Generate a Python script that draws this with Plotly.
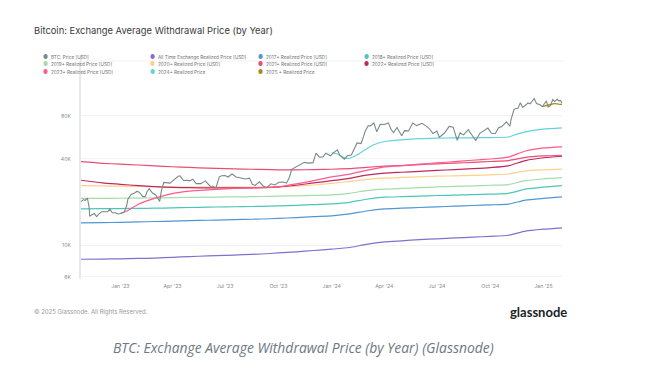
import plotly.graph_objects as go

# ---------------- data ----------------
price_dates = [
    "2022-10-25","2022-10-29","2022-11-01","2022-11-05","2022-11-08","2022-11-09","2022-11-13","2022-11-17",
    "2022-11-21","2022-11-25","2022-11-30","2022-12-05","2022-12-10","2022-12-14","2022-12-18","2022-12-23",
    "2022-12-28","2023-01-01","2023-01-08","2023-01-12","2023-01-14","2023-01-20","2023-01-25","2023-01-29",
    "2023-02-02","2023-02-09","2023-02-13","2023-02-16","2023-02-20","2023-02-25","2023-03-03","2023-03-10",
    "2023-03-13","2023-03-17","2023-03-22","2023-03-28","2023-04-02","2023-04-11","2023-04-14","2023-04-20",
    "2023-04-26","2023-05-01","2023-05-06","2023-05-12","2023-05-20","2023-05-28","2023-06-05","2023-06-10",
    "2023-06-15","2023-06-21","2023-06-25","2023-07-01","2023-07-06","2023-07-13","2023-07-20","2023-07-28",
    "2023-08-05","2023-08-12","2023-08-17","2023-08-22","2023-08-29","2023-09-05","2023-09-11","2023-09-18",
    "2023-09-25","2023-10-02","2023-10-09","2023-10-15","2023-10-20","2023-10-24","2023-11-01","2023-11-09",
    "2023-11-15","2023-11-22","2023-11-30","2023-12-05","2023-12-11","2023-12-17","2023-12-22","2023-12-30",
    "2024-01-04","2024-01-11","2024-01-15","2024-01-23","2024-01-28","2024-02-04","2024-02-09","2024-02-14",
    "2024-02-21","2024-02-28","2024-03-04","2024-03-08","2024-03-14","2024-03-19","2024-03-25","2024-04-01",
    "2024-04-08","2024-04-13","2024-04-17","2024-04-23","2024-05-01","2024-05-06","2024-05-13","2024-05-20",
    "2024-05-27","2024-06-05","2024-06-12","2024-06-18","2024-06-24","2024-07-01","2024-07-05","2024-07-14",
    "2024-07-22","2024-07-29","2024-08-05","2024-08-10","2024-08-16","2024-08-24","2024-08-30","2024-09-06",
    "2024-09-13","2024-09-20","2024-09-27","2024-10-03","2024-10-10","2024-10-15","2024-10-21","2024-10-29",
    "2024-11-04","2024-11-06","2024-11-11","2024-11-13","2024-11-18","2024-11-22","2024-11-26","2024-12-02",
    "2024-12-05","2024-12-09","2024-12-16","2024-12-20","2024-12-26","2024-12-30","2025-01-06","2025-01-09",
    "2025-01-13","2025-01-17","2025-01-20","2025-01-25","2025-01-27","2025-01-31","2025-02-02",
]
btc_price = [
    20100,20800,20500,21300,18500,15900,16300,16600,
    15800,16500,17100,17000,17100,17800,16800,16800,
    16500,16600,17100,18900,20900,22700,23000,23700,
    23500,21800,21800,23600,24800,23200,22400,20200,
    24100,27400,27300,27100,28200,30300,30500,28300,
    28400,28100,28900,26900,26900,28100,25800,25800,
    25100,30000,30500,30600,29900,31400,29900,29300,
    29000,29400,26600,26100,27700,25800,25200,26800,
    26300,27500,27600,27100,29700,33900,35400,36700,
    37900,37400,37700,44000,41200,41400,43900,42100,
    44200,46300,42500,39900,42100,42600,47100,51800,
    51300,62500,68300,68200,71400,62000,69900,69700,
    71600,64000,61300,66400,58200,63200,62900,71400,
    68500,71100,68200,65100,60300,62800,56700,60800,
    67600,66800,54000,60900,59000,64100,59100,53900,
    60500,63200,65800,60600,60300,66000,67400,72700,
    67800,75600,88700,90000,90500,98900,91900,95800,
    98700,97400,106100,97800,95800,92800,102200,92500,
    94500,104400,101100,104700,102000,102400,97700,
]

rp_dates = [
    "2022-10-25","2022-12-01","2023-01-01","2023-02-01","2023-03-01","2023-04-01","2023-05-01",
    "2023-06-01","2023-07-01","2023-08-01","2023-09-01","2023-10-01","2023-11-01","2023-12-01",
    "2024-01-01","2024-02-01","2024-03-01","2024-04-01","2024-05-01","2024-06-01","2024-07-01",
    "2024-08-01","2024-09-01","2024-10-01","2024-11-01","2024-12-01","2025-01-01","2025-02-02",
]
rp_all_time = [7950,7970,8000,8050,8100,8200,8300,8380,8450,8550,8650,8800,8950,9150,
               9350,9600,10100,10500,10700,10900,11050,11200,11350,11500,11700,12500,12900,13200]
rp_2017 = [14300,14350,14400,14500,14600,14700,14800,14900,15000,15100,15200,15350,15550,15800,
           16000,16500,17300,17900,18100,18300,18500,18700,18900,19100,19300,20600,21200,21700]
rp_2018 = [17900,17950,18000,18050,18100,18200,18300,18400,18500,18550,18650,18800,18950,19200,
           19400,19900,20900,21600,21800,22000,22200,22350,22500,22700,23000,24600,25400,26000]
rp_2019 = [21200,21200,21250,21300,21350,21450,21550,21600,21700,21750,21850,22000,22100,22250,
           22400,23000,24000,24600,24900,25200,25500,25700,25900,26200,26500,28200,29000,29600]
rp_2020 = [26000,25900,25800,25700,25600,25500,25450,25400,25400,25400,25400,25500,25800,26300,
           27000,27800,28800,29400,29700,30000,30300,30500,30700,31000,31400,33000,33600,34000]
rp_2021 = [38300,37300,36800,36300,35800,35300,34900,34500,34200,34000,33800,33600,33600,33700,
           33900,34300,35000,35600,36000,36500,37000,37400,37900,38400,39000,41000,42000,42500]
rp_2022 = [28400,27200,26600,26000,25600,25300,25200,25100,25100,25100,25200,25500,26200,27200,
           28200,29300,30800,31800,32300,32800,33300,33700,34200,34800,35800,39000,40800,41800]

rp_2023_dates = ["2023-01-01","2023-01-15","2023-02-01","2023-03-01","2023-04-01","2023-05-01","2023-06-01",
                 "2023-07-01","2023-08-01","2023-09-01","2023-10-01","2023-11-01","2023-12-01","2024-01-01",
                 "2024-02-01","2024-03-01","2024-04-01","2024-05-01","2024-06-01","2024-07-01","2024-08-01",
                 "2024-09-01","2024-10-01","2024-11-01","2024-12-01","2025-01-01","2025-02-02"]
rp_2023 = [16600,17500,19300,21200,22900,23800,24300,24700,25000,25200,25500,26800,28200,30000,
           31300,33300,35200,36000,36800,37600,38300,39200,40000,41200,45500,47800,48700]

rp_2024_dates = ["2024-01-01","2024-01-10","2024-01-25","2024-02-01","2024-02-15","2024-03-01","2024-03-15",
                 "2024-04-01","2024-05-01","2024-06-01","2024-07-01","2024-08-01","2024-09-01","2024-10-01",
                 "2024-11-01","2024-11-15","2024-12-01","2024-12-15","2025-01-01","2025-02-02"]
rp_2024 = [44000,43500,40500,40500,43000,47000,50500,53000,54500,55500,56000,56200,56300,56500,
           57000,59500,62000,63500,64800,66000]

rp_2025_dates = ["2024-12-31","2025-01-10","2025-01-20","2025-01-27","2025-02-02"]
rp_2025 = [93500,95500,97500,97000,96500]

series_names = ["BTC: Price [USD]", "All Time Exchange Realized Price [USD]", "2017+ Realized Price [USD]",
                "2018+ Realized Price [USD]", "2019+ Realized Price [USD]", "2020+ Realized Price [USD]",
                "2021+ Realized Price [USD]", "2022+ Realized Price [USD]", "2023+ Realized Price [USD]",
                "2024+ Realized Price", "2025 + Realized Price"]
series_colors = ["#7a8988", "#8070cf", "#4f97d4", "#4cc6b6", "#a3dca8", "#ffd08c",
                 "#e84e72", "#c0285e", "#ff5a8e", "#62d3dc", "#a88a25"]

y_tick_vals = [6000, 10000, 40000, 80000]
y_tick_text = ["6K", "10K", "40K", "80K"]
x_tick_vals = ["2023-01-01","2023-04-01","2023-07-01","2023-10-01","2024-01-01",
               "2024-04-01","2024-07-01","2024-10-01","2025-01-01"]
x_tick_text = ["Jan '23","Apr '23","Jul '23","Oct '23","Jan '24","Apr '24","Jul '24","Oct '24","Jan '25"]

# ---------------- figure ----------------
fig = go.Figure()

rp_series = [
    (rp_dates, rp_all_time, 1), (rp_dates, rp_2017, 2), (rp_dates, rp_2018, 3), (rp_dates, rp_2019, 4),
    (rp_dates, rp_2020, 5), (rp_dates, rp_2021, 6), (rp_dates, rp_2022, 7), (rp_2023_dates, rp_2023, 8),
    (rp_2024_dates, rp_2024, 9),
]
for xs, ys, idx in rp_series:
    fig.add_trace(go.Scatter(x=xs, y=ys, mode="lines", name=series_names[idx],
                             line=dict(color=series_colors[idx], width=1.2, shape="spline", smoothing=0.6),
                             showlegend=False))
fig.add_trace(go.Scatter(x=price_dates, y=btc_price, mode="lines", name=series_names[0],
                         line=dict(color=series_colors[0], width=1.1), showlegend=False))
fig.add_trace(go.Scatter(x=rp_2025_dates, y=rp_2025, mode="lines", name=series_names[10],
                         line=dict(color=series_colors[10], width=1.3, shape="spline"), showlegend=False))

W, H = 672, 371
L, R, T, B = 81, 110, 61, 92

fig.update_layout(
    width=W, height=H,
    margin=dict(l=L, r=R, t=T, b=B),
    paper_bgcolor="white", plot_bgcolor="white",
    font=dict(family="Inter, Arial, sans-serif", color="#888"),
    xaxis=dict(range=["2022-10-25", "2025-02-02"], tickvals=x_tick_vals, ticktext=x_tick_text,
               showgrid=False, zeroline=False, showline=False, ticks="",
               tickfont=dict(size=5.2, color="#8a8a8a"), ticklabelstandoff=3),
    yaxis=dict(type="log", range=[3.762, 5.288], tickvals=y_tick_vals, ticktext=y_tick_text,
               showgrid=True, gridcolor="#f3f3f3", gridwidth=1, zeroline=False,
               showline=True, linecolor="#e4e9ef", linewidth=2, ticks="",
               tickfont=dict(size=5.2, color="#8a8a8a"), ticklabelstandoff=7),
    showlegend=False,
)

fig.add_shape(type="line", xref="paper", yref="paper", x0=0, x1=1.003, y0=1, y1=1,
              line=dict(color="#f1f1f1", width=1))
fig.add_shape(type="line", xref="paper", yref="paper", x0=0, x1=0, y0=1, y1=1.025,
              line=dict(color="#e4e9ef", width=2))

def px_x(px):
    return (px - L) / (W - L - R)

def px_y(py):
    return (H - B - py) / (H - T - B)

fig.add_annotation(text="Bitcoin: Exchange Average Withdrawal Price (by Year)", xref="paper", yref="paper",
                   x=px_x(31.5), y=px_y(31), xanchor="left", yanchor="middle", showarrow=False,
                   font=dict(size=9.4, color="#3a3a3a", family="Inter, Arial, sans-serif"))

col_x = [45.7, 152.5, 260, 366.7]
row_y = [57.3, 64.4, 72.2]
for i, k in enumerate(range(len(series_names))):
    r, c = divmod(i, 4)
    fig.add_annotation(text="●", xref="paper", yref="paper", x=px_x(col_x[c]), y=px_y(row_y[r]),
                       xanchor="center", yanchor="middle", showarrow=False,
                       font=dict(size=5.5, color=series_colors[k]))
    fig.add_annotation(text=series_names[k], xref="paper", yref="paper", x=px_x(col_x[c] + 3.5),
                       y=px_y(row_y[r]), xanchor="left", yanchor="middle", showarrow=False,
                       font=dict(size=4.7, color="#707070"))

fig.add_annotation(text="© 2025 Glassnode. All Rights Reserved.", xref="paper", yref="paper",
                   x=px_x(31.5), y=px_y(312), xanchor="left", yanchor="middle", showarrow=False,
                   font=dict(size=6.0, color="#9a9a9a"))
fig.add_annotation(text="<b>glassnode</b>", xref="paper", yref="paper",
                   x=px_x(569), y=px_y(312), xanchor="right", yanchor="middle", showarrow=False,
                   font=dict(size=13, color="#222", family="Lato, Inter, Arial, sans-serif"))
fig.add_annotation(text="<i>BTC: Exchange Average Withdrawal Price (by Year) (Glassnode)</i>",
                   xref="paper", yref="paper", x=px_x(303), y=px_y(347), xanchor="center",
                   yanchor="middle", showarrow=False,
                   font=dict(size=13.9, color="#6e7884", family="Open Sans, sans-serif"))

fig.write_html("out.html", config={"displayModeBar": False},
               post_script="document.body.style.margin='0';")
